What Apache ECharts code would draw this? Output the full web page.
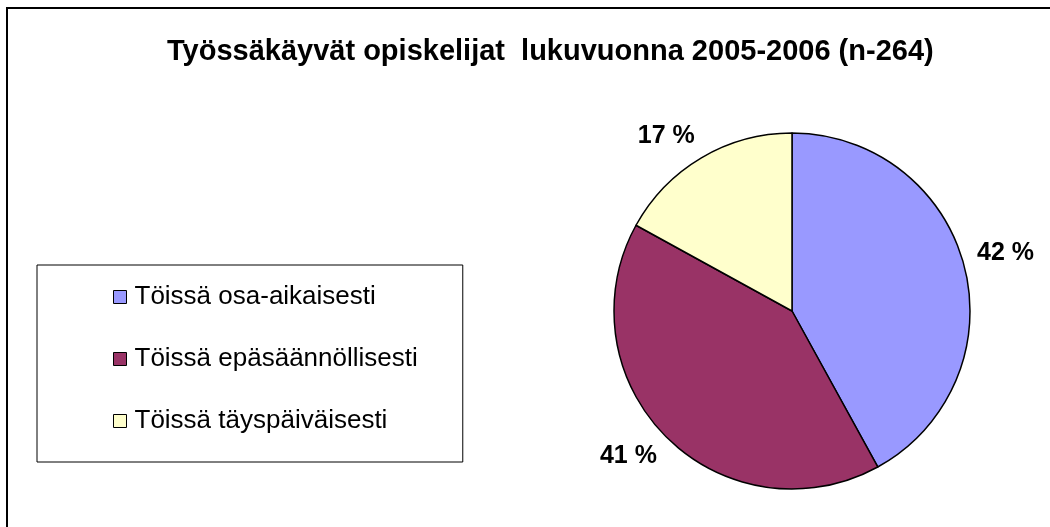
<!DOCTYPE html>
<html>
<head>
<meta charset="utf-8">
<script src="https://cdn.jsdelivr.net/npm/echarts@6/dist/echarts.min.js"></script>
<style>
  html, body { margin: 0; padding: 0; background: #fff; }
  #chart { width: 1050px; height: 527px; }
</style>
</head>
<body>
<div id="chart"></div>
<script>
// data
const categories = ['Töissä osa-aikaisesti', 'Töissä epäsäännöllisesti', 'Töissä täyspäiväisesti'];
const percents = [42, 41, 17];
const colors = ['#9999ff', '#993366', '#ffffcc'];
const titleText = 'Työssäkäyvät opiskelijat  lukuvuonna 2005-2006 (n-264)';

const font = 'Arial, "Liberation Sans", sans-serif';
const pieCenter = [792, 311];
const labelDist = 191; // distance of the label's nearest corner from the pie centre

const pieData = categories.map((name, i) => ({
  name: name,
  value: percents[i],
  itemStyle: { color: colors[i] }
}));

const chart = echarts.init(document.getElementById('chart'));
chart.setOption({
  backgroundColor: '#fff',
  animation: false,
  title: {
    text: titleText,
    left: 162,
    top: 32,
    textStyle: { fontFamily: font, fontSize: 29, fontWeight: 'bold', color: '#000' }
  },
  legend: {
    orient: 'vertical',
    left: 37,
    top: 265,
    padding: [19, 45, 28, 76],
    itemGap: 36,
    itemWidth: 13,
    itemHeight: 13,
    borderColor: '#000',
    borderWidth: 1,
    icon: 'rect',
    selectedMode: false,
    data: categories,
    itemStyle: { borderColor: '#000', borderWidth: 1 },
    textStyle: { fontFamily: font, fontSize: 26, color: '#000', padding: [0, 0, 0, 3] }
  },
  graphic: [{
    type: 'rect',
    shape: { x: 7, y: 8, width: 1100, height: 600 },
    style: { fill: 'none', stroke: '#000', lineWidth: 2 },
    silent: true
  }],
  series: [
    {
      type: 'pie',
      center: pieCenter,
      radius: 178,
      startAngle: 90,
      clockwise: true,
      label: { show: false },
      labelLine: { show: false },
      itemStyle: { borderColor: '#000', borderWidth: 1.5 },
      emphasis: { disabled: true },
      data: pieData
    },
    {
      // transparent ring used only to place the percentage labels outside the pie
      type: 'pie',
      center: pieCenter,
      radius: [195, 231],
      startAngle: 90,
      clockwise: true,
      silent: true,
      itemStyle: { color: 'rgba(0,0,0,0)', borderWidth: 0 },
      label: {
        show: true,
        position: 'inside',
        formatter: '{c} %',
        fontFamily: font,
        fontSize: 25,
        fontWeight: 'bold',
        color: '#000'
      },
      labelLine: { show: false },
      // put the label's nearest corner on the slice's mid-angle, like Excel does
      labelLayout: function (params) {
        const r = params.labelRect;
        const vx = r.x + r.width / 2 - pieCenter[0];
        const vy = r.y + r.height / 2 - pieCenter[1];
        const len = Math.sqrt(vx * vx + vy * vy);
        const ux = vx / len, uy = vy / len;
        return {
          x: pieCenter[0] + labelDist * ux + Math.sign(ux) * r.width / 2,
          y: pieCenter[1] + labelDist * uy + Math.sign(uy) * 10,
          align: 'center',
          verticalAlign: 'middle'
        };
      },
      emphasis: { disabled: true },
      data: pieData.map(d => ({ name: d.name, value: d.value }))
    }
  ]
});
</script>
</body>
</html>
